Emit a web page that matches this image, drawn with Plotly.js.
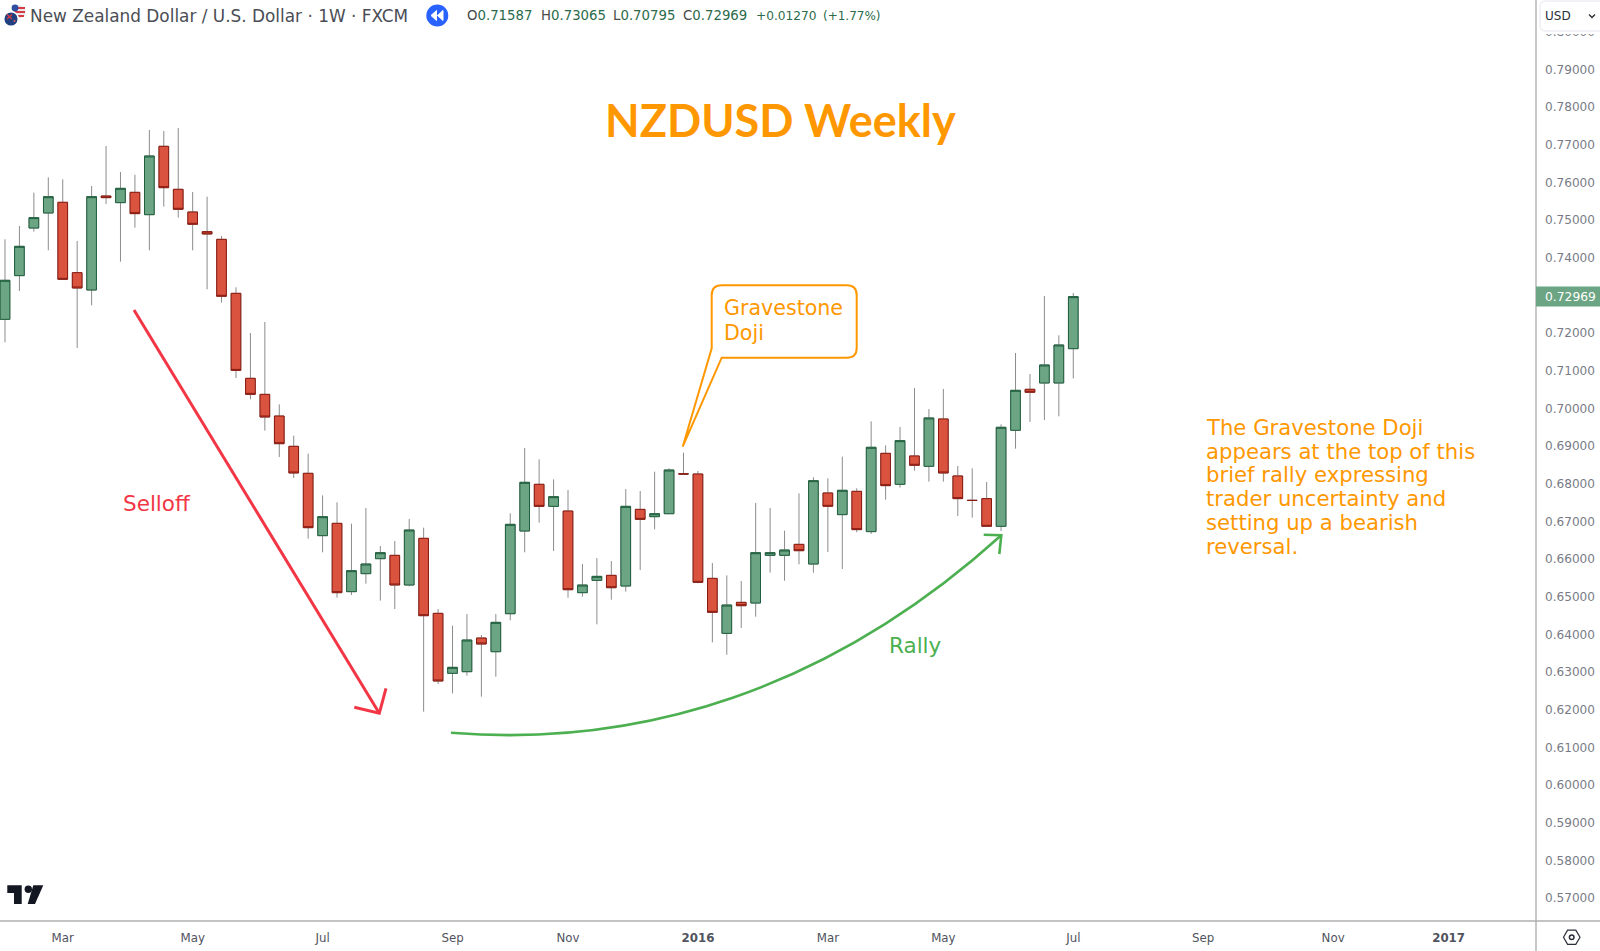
<!DOCTYPE html>
<html>
<head>
<meta charset="utf-8">
<script src="https://cdn.plot.ly/plotly-3.0.1.min.js"></script>
<style>html,body{margin:0;padding:0;background:#fff;overflow:hidden}#chart{width:1600px;height:951px}</style>
</head>
<body>
<div id="chart"></div>
<script>
const WEEKS = ['2015-02-02','2015-02-09','2015-02-16','2015-02-23','2015-03-02','2015-03-09','2015-03-16','2015-03-23','2015-03-30','2015-04-06','2015-04-13','2015-04-20','2015-04-27','2015-05-04','2015-05-11','2015-05-18','2015-05-25','2015-06-01','2015-06-08','2015-06-15','2015-06-22','2015-06-29','2015-07-06','2015-07-13','2015-07-20','2015-07-27','2015-08-03','2015-08-10','2015-08-17','2015-08-24','2015-08-31','2015-09-07','2015-09-14','2015-09-21','2015-09-28','2015-10-05','2015-10-12','2015-10-19','2015-10-26','2015-11-02','2015-11-09','2015-11-16','2015-11-23','2015-11-30','2015-12-07','2015-12-14','2015-12-21','2015-12-28','2016-01-04','2016-01-11','2016-01-18','2016-01-25','2016-02-01','2016-02-08','2016-02-15','2016-02-22','2016-02-29','2016-03-07','2016-03-14','2016-03-21','2016-03-28','2016-04-04','2016-04-11','2016-04-18','2016-04-25','2016-05-02','2016-05-09','2016-05-16','2016-05-23','2016-05-30','2016-06-06','2016-06-13','2016-06-20','2016-06-27','2016-07-04'];
const OPEN = [.72366,.73526,.74791,.75190,.75473,.73605,.73145,.75641,.75464,.75738,.75145,.76960,.75818,.75216,.74694,.74490,.73056,.70799,.70374,.69799,.68994,.68277,.66622,.66949,.65135,.65613,.66011,.66099,.65312,.66551,.64559,.62966,.63010,.63904,.63541,.64550,.66745,.67985,.67400,.67276,.65108,.65435,.65568,.65285,.67320,.67126,.67205,.68263,.68259,.65488,.64028,.64851,.64833,.66099,.66099,.66391,.65869,.67755,.67180,.67799,.66729,.68808,.67985,.68738,.68463,.69720,.68207,.67561,.67605,.66870,.69419,.70508,.70676,.70676,.71587];
const HIGH = [.74490,.74844,.75729,.76137,.76083,.74446,.75906,.76969,.76278,.76207,.77393,.77367,.77447,.75747,.75623,.74579,.73216,.72003,.72295,.70109,.69277,.68799,.67692,.67507,.66940,.67356,.66347,.66480,.67064,.66834,.64674,.64232,.64542,.63984,.64542,.67215,.68949,.68648,.68117,.67834,.65869,.66028,.65949,.67860,.67807,.68321,.68409,.68825,.68338,.65895,.65568,.65417,.67489,.67356,.66754,.67745,.68171,.68145,.68720,.67879,.69658,.69021,.69508,.70543,.69986,.70517,.68472,.68410,.68047,.69578,.71473,.70915,.72986,.71942,.73065];
const LOW = [.71755,.73118,.74694,.74198,.73428,.71605,.72738,.75428,.73897,.74800,.74198,.75358,.75066,.74198,.73163,.72809,.70808,.70242,.69410,.68710,.68153,.66542,.66179,.64975,.65046,.65347,.64896,.64674,.65276,.61948,.62683,.62435,.62904,.62346,.62878,.64373,.66179,.66967,.66214,.64975,.65001,.64267,.64922,.65134,.65710,.66789,.67205,.68250,.65356,.63789,.63461,.64170,.64470,.65639,.65426,.65860,.65640,.66189,.65737,.66711,.66667,.67578,.67897,.68348,.68056,.68056,.67145,.67100,.66870,.66746,.68932,.69641,.69694,.69791,.70795];
const CLOSE = [.73402,.74304,.75066,.75623,.73428,.73198,.75623,.75597,.75844,.75172,.76703,.75862,.75287,.74889,.74632,.72977,.71010,.70374,.69772,.69064,.68286,.66834,.67126,.65108,.65692,.65869,.66170,.65312,.66772,.64497,.62763,.63125,.63851,.63745,.64320,.66922,.68038,.67400,.67657,.65187,.65311,.65541,.65240,.67400,.67055,.67205,.68365,.68259,.65382,.64586,.64780,.64762,.66170,.66170,.66241,.66223,.68082,.67401,.67826,.66782,.68968,.67950,.69145,.68490,.69747,.68286,.67605,.67556,.66870,.69499,.70481,.70428,.71154,.71685,.72969];

const X_TICK_DATES = ['2015-03-02','2015-05-04','2015-07-06','2015-09-07','2015-11-02','2016-01-04','2016-03-07','2016-05-02','2016-07-04','2016-09-05','2016-11-07','2017-01-02'];
const X_TICK_LABELS = ['Mar','May','Jul','Sep','Nov','<b>2016</b>','Mar','May','Jul','Sep','Nov','<b>2017</b>'];
const Y_TICKS = [.57,.58,.59,.60,.61,.62,.63,.64,.65,.66,.67,.68,.69,.70,.71,.72,.73,.74,.75,.76,.77,.78,.79,.80];
const HEADER_TITLE = 'New Zealand Dollar / U.S. Dollar \u00B7 1W \u00B7 FXCM';
const OHLC_LABELS = ['O','H','L','C'];
const OHLC_VALUES = ['0.71587','0.73065','0.70795','0.72969'];
const CHANGE_TEXT = ['+0.01270','(+1.77%)'];
const NOTE_LINES = ['The Gravestone Doji','appears at the top of this','brief rally expressing','trader uncertainty and','setting up a bearish','reversal.'];
const DOJI_LINES = ['Gravestone','Doji'];

const W = 1536, H = 921;
const FONT = '"DejaVu Sans", sans-serif';
const TITLE_FONT = 'Lato, sans-serif';
const px = x => x / W, py = y => 1 - y / H;
const P = (x, y) => px(x).toFixed(5) + ' ' + py(y).toFixed(5);

const GREEN = '#6ba583', RED = '#d9533f', ORANGE = '#ff9800', RLINE = '#f23645', GLINE = '#4caf50';

// the gravestone doji shows only its thin grey cross; its body trace entry stays empty
const isBody = i => Math.abs(OPEN[i] - CLOSE[i]) > 0.00002;
const bodyOpen = OPEN.map((v, i) => isBody(i) ? v : null);
const bodyClose = CLOSE.map((v, i) => isBody(i) ? v : null);
const bodyHigh = OPEN.map((v, i) => isBody(i) ? Math.max(v, CLOSE[i]) : null);
const bodyLow = OPEN.map((v, i) => isBody(i) ? Math.min(v, CLOSE[i]) : null);

const traces = [
  {type:'candlestick', x:WEEKS, open:OPEN, high:HIGH, low:LOW, close:CLOSE, whiskerwidth:0, hoverinfo:'skip',
   increasing:{line:{color:'#8c8c8c',width:1},fillcolor:'rgba(0,0,0,0)'},
   decreasing:{line:{color:'#8c8c8c',width:1},fillcolor:'rgba(0,0,0,0)'}},
  {type:'candlestick', x:WEEKS, open:bodyOpen, high:bodyHigh, low:bodyLow, close:bodyClose, whiskerwidth:0, hoverinfo:'skip',
   increasing:{line:{color:'#1f5f3e',width:1},fillcolor:GREEN},
   decreasing:{line:{color:'#8a1a10',width:1},fillcolor:RED}}
];

const ann = (x, y, text, size, color, extra) => Object.assign({
  xref:'paper', yref:'paper', x:px(x), y:py(y), text, showarrow:false, xanchor:'left', yanchor:'middle',
  borderpad:0, borderwidth:0, font:{family:FONT, size, color}}, extra || {});

const annotations = [
  Object.assign(ann(780, 120, '<b>NZDUSD Weekly</b>', 45, ORANGE, {xanchor:'center'}), {font:{family:TITLE_FONT, size:45, color:ORANGE}}),
  ann(123, 503, 'Selloff', 21.5, RLINE),
  ann(889, 645, 'Rally', 21.5, GLINE),
  ...DOJI_LINES.map((t, i) => ann(724, 308 + i * 25, t, 20.6, ORANGE)),
  ...NOTE_LINES.map((t, i) => ann(1206, 427.5 + i * 23.7, t, 21.2, ORANGE)),
  ann(30, 16, HEADER_TITLE, 16.9, '#4a4d55'),
  ...OHLC_LABELS.map((t, i) => ann([466.7,540.7,612.7,683][i], 15.7, t + '<span style="color:#2b6b4b">' + OHLC_VALUES[i] + '</span>', 13.3, '#4a4a4a')),
  ann(755.7, 15.7, CHANGE_TEXT[0], 12.2, '#2b6b4b'),
  ann(822.7, 15.7, CHANGE_TEXT[1], 12, '#2b6b4b'),
  ann(1545, 16, 'USD', 12, '#2a2e39'),
  {xref:'paper', yref:'y', x:px(1570), y:CLOSE[CLOSE.length-1], text:OHLC_VALUES[3], showarrow:false,
   xanchor:'center', yanchor:'middle', borderpad:0, font:{family:FONT, size:12.3, color:'#ffffff'}}
];

const pShape = (path, line, fill, w) => ({type:'path', xref:'paper', yref:'paper', layer:'above', path,
  line:{color:line, width:w === undefined ? 2 : w}, fillcolor:fill || 'rgba(0,0,0,0)'});
const circle = (cx, cy, r, fill, line) => ({type:'circle', xref:'paper', yref:'paper', layer:'above',
  x0:px(cx-r), x1:px(cx+r), y0:py(cy+r), y1:py(cy-r), fillcolor:fill, line:{color:line || fill, width:line ? 1.5 : 0}});
const box = (x0, y0, x1, y1, fill) => ({type:'rect', xref:'paper', yref:'paper', layer:'above',
  x0:px(x0), x1:px(x1), y0:py(y1), y1:py(y0), fillcolor:fill, line:{width:0}});

const shapes = [
  // axis frame
  pShape('M ' + P(0,921) + ' L ' + P(1600,921), '#b0b0b0', null, 1.4),
  pShape('M ' + P(1536,0) + ' L ' + P(1536,951), '#b0b0b0', null, 1.4),
  // callout
  pShape('M ' + P(721.7,285.3) + ' L ' + P(846.7,285.3) + ' Q ' + P(856.7,285.3) + ' ' + P(856.7,295.3) +
         ' L ' + P(856.7,347.7) + ' Q ' + P(856.7,357.7) + ' ' + P(846.7,357.7) + ' L ' + P(721.7,357.7) +
         ' L ' + P(682.7,446.7) + ' L ' + P(711.7,348.3) + ' L ' + P(711.7,295.3) +
         ' Q ' + P(711.7,285.3) + ' ' + P(721.7,285.3) + ' Z', ORANGE, null, 2),
  // selloff arrow
  pShape('M ' + P(134,310) + ' L ' + P(379.3,713.3), RLINE, null, 3),
  pShape('M ' + P(354.3,707.3) + ' L ' + P(379.3,713.3) + ' L ' + P(386,688.3), RLINE, null, 3),
  // rally arrow
  pShape('M ' + P(451,732.7) + ' C ' + P(640,748) + ' ' + P(830,690) + ' ' + P(1001.3,535.3), GLINE, null, 2.6),
  pShape('M ' + P(983.7,534.7) + ' L ' + P(1001.3,535.3) + ' L ' + P(999.3,554), GLINE, null, 2.6),
  // last-price tag tied to the last close
  {type:'rect', xref:'paper', yref:'y', ysizemode:'pixel', yanchor:CLOSE[CLOSE.length-1], x0:px(1536), x1:px(1600), y0:-10, y1:10,
   layer:'above', fillcolor:GREEN, line:{width:0}},
  // currency button
  box(1537, 0, 1600, 34, '#ffffff'),
  pShape('M ' + P(1546,1) + ' L ' + P(1601,1) + ' L ' + P(1601,31) + ' L ' + P(1546,31) + ' Q ' + P(1540,31) + ' ' + P(1540,25) +
         ' L ' + P(1540,7) + ' Q ' + P(1540,1) + ' ' + P(1546,1) + ' Z', '#e4e6ec', '#ffffff', 1),
  pShape('M ' + P(1589,14.5) + ' L ' + P(1592,17.5) + ' L ' + P(1595,14.5), '#2a2e39', null, 1.4),
  // header flag icons
  circle(19, 11.7, 6.8, '#e8e8ee'),
  box(14, 7, 25, 9, '#d83a42'), box(14, 11, 25, 13, '#d83a42'), box(15, 15, 24, 17, '#d83a42'),
  circle(15, 8, 3.4, '#2f4e9e'),
  circle(11, 19, 7.3, '#20407f', '#ffffff'),
  pShape('M ' + P(7,14.5) + ' L ' + P(12,19) + ' M ' + P(12,14.5) + ' L ' + P(7,19), '#d83a42', null, 1.3),
  circle(14.5, 21, 1, '#e85a60'),
  // rewind button
  circle(437.3, 15.5, 11, '#2962ff'),
  pShape('M ' + P(436.5,10.5) + ' L ' + P(431,15.5) + ' L ' + P(436.5,20.5) + ' Z', '#ffffff', '#ffffff', 1),
  pShape('M ' + P(443,10.5) + ' L ' + P(437.5,15.5) + ' L ' + P(443,20.5) + ' Z', '#ffffff', '#ffffff', 1),
  // logo
  pShape('M ' + P(7.3,885.3) + ' L ' + P(21.7,885.3) + ' L ' + P(21.7,904) + ' L ' + P(14,904) + ' L ' + P(14,893) + ' L ' + P(7.3,893) + ' Z', '#131722', '#131722', 0),
  circle(28.3, 889.3, 3.7, '#131722'),
  pShape('M ' + P(33.3,885.3) + ' L ' + P(43.3,885.3) + ' L ' + P(35,904) + ' L ' + P(27.7,904) + ' Z', '#131722', '#131722', 0),
  // settings icon
  pShape('M ' + P(1563.5,937.3) + ' L ' + P(1567.6,930.2) + ' L ' + P(1575.8,930.2) + ' L ' + P(1580,937.3) + ' L ' + P(1575.8,944.4) + ' L ' + P(1567.6,944.4) + ' Z', '#2a2e39', null, 1.2),
  circle(1571.7, 937.3, 2.3, 'rgba(0,0,0,0)', '#2a2e39')
];

const layout = {
  width:1600, height:951, margin:{l:0, r:64, t:0, b:30, pad:0}, autosize:false,
  paper_bgcolor:'#ffffff', plot_bgcolor:'#ffffff', showlegend:false, hovermode:false,
  boxmode:'overlay', boxgap:0.33, boxgroupgap:0,
  xaxis:{type:'date', range:['2015-01-30 13:54','2017-02-13 08:53'], rangeslider:{visible:false},
    showgrid:false, zeroline:false, showline:false, ticks:'', tickmode:'array', tickvals:X_TICK_DATES, ticktext:X_TICK_LABELS,
    ticklabelstandoff:8, tickangle:0, tickfont:{family:FONT, size:11.8, color:'#50535e'}},
  yaxis:{range:[.5639,.80845], side:'right', showgrid:false, zeroline:false, showline:false, ticks:'',
    tickmode:'array', tickvals:Y_TICKS, ticktext:Y_TICKS.map(v => v.toFixed(5)), ticklabelstandoff:8,
    tickfont:{family:FONT, size:12.1, color:'#787b86'}},
  annotations, shapes
};

Plotly.newPlot('chart', traces, layout, {staticPlot:true, displayModeBar:false});
</script>
</body>
</html>
